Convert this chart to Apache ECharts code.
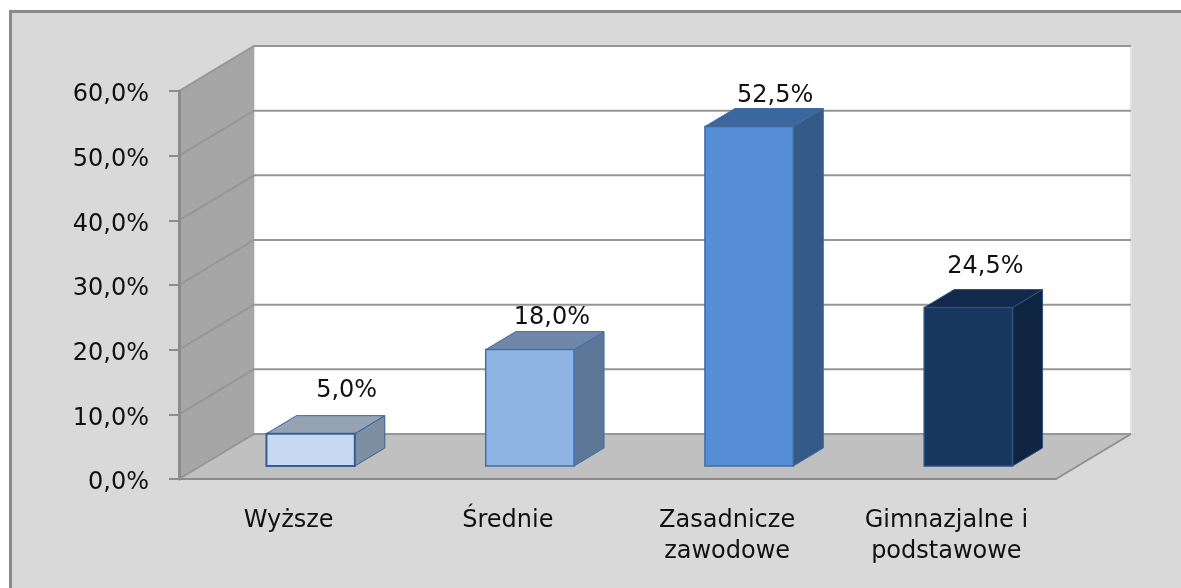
<!DOCTYPE html>
<html>
<head>
<meta charset="utf-8">
<style>
html,body{margin:0;padding:0;background:#fff;overflow:hidden;}
/* the source picture is a soft, scaled up bitmap */
#main{width:1181px;height:588px;filter:blur(0.4px);}
</style>
<script src="https://cdn.jsdelivr.net/npm/echarts@6/dist/echarts.min.js"></script>
</head>
<body>
<div id="main"></div>
<script>
// chart data
var categories = ['Wyższe', 'Średnie', 'Zasadnicze\nzawodowe', 'Gimnazjalne i\npodstawowe'];
var values = [5.0, 18.0, 52.5, 24.5];
var yTicks = [0, 10, 20, 30, 40, 50, 60];

// look of the bars: front, top, side, border
var frontColors = ['#c6d9f1', '#8eb4e3', '#558ed5', '#17375e'];
var topColors = ['#95a3b5', '#6f88aa', '#3c669e', '#11294b'];
var sideColors = ['#7f8fa3', '#5d7797', '#345a88', '#0f2440'];
var borderColors = ['#376092', '#416fa6', '#44699c', '#2f5180'];
var borderWidths = [2, 1.5, 1.5, 1.5];
// hand placed data labels, relative to the front top centre of each bar
var labelShift = [[36, -43], [22, -32], [26, -31], [17, -41]];

// fake 3d
var wallDX = 75, wallDY = 45;      // depth of the whole box
var barOffX = 22, barOffY = 13;    // how far behind the front edge the bars stand
var barDX = 30, barDY = 18;        // depth of a bar
var barRatio = 0.403;

var pct = function (v) {
    return v.toFixed(1).replace('.', ',') + '%';
};

function poly(points, fill, stroke, width) {
    return {
        type: 'polygon',
        shape: { points: points },
        style: { fill: fill, stroke: stroke || null, lineWidth: width || 0 }
    };
}

// back wall, left wall and floor
function renderWalls(params) {
    var c = params.coordSys;
    var l = c.x, r = c.x + c.width, t = c.y, b = c.y + c.height;
    return {
        type: 'group',
        children: [
            poly([[l + wallDX, t - wallDY], [r + wallDX, t - wallDY], [r + wallDX, b - wallDY], [l + wallDX, b - wallDY]], '#ffffff', '#e2e2e2', 2),
            poly([[l, t], [l + wallDX, t - wallDY], [l + wallDX, b - wallDY], [l, b]], '#a6a6a6'),
            poly([[l, b], [l + wallDX, b - wallDY], [r + wallDX, b - wallDY], [r, b]], '#c0c0c0'),
            {
                type: 'line',
                shape: { x1: r, y1: b, x2: r + wallDX, y2: b - wallDY },
                style: { stroke: '#8f8f8f', lineWidth: 2 }
            }
        ]
    };
}

// grid lines run along the left wall and then over the back wall
function renderGrid(params, api) {
    var c = params.coordSys;
    var y = api.coord([0, api.value(0)])[1];
    return {
        type: 'polyline',
        shape: { points: [[c.x, y], [c.x + wallDX, y - wallDY], [c.x + c.width + wallDX, y - wallDY]] },
        style: { fill: null, stroke: '#969696', lineWidth: 2 }
    };
}

function renderBar(params, api) {
    var i = params.dataIndex;
    var top = api.coord([i, api.value(1)]);
    var base = api.coord([i, 0]);
    var w = api.size([1, 0])[0] * barRatio;
    var x0 = top[0] + barOffX - w / 2, x1 = x0 + w;
    var yt = top[1] - barOffY, yb = base[1] - barOffY;
    var line = borderColors[i], lw = borderWidths[i];
    return {
        type: 'group',
        children: [
            poly([[x1, yt], [x1 + barDX, yt - barDY], [x1 + barDX, yb - barDY], [x1, yb]], sideColors[i], line, 1),
            poly([[x0, yt], [x0 + barDX, yt - barDY], [x1 + barDX, yt - barDY], [x1, yt]], topColors[i], line, 1),
            poly([[x0, yt], [x1, yt], [x1, yb], [x0, yb]], frontColors[i], line, lw),
            {
                type: 'text',
                x: x0 + w / 2 + labelShift[i][0],
                y: yt + labelShift[i][1],
                style: {
                    text: pct(api.value(1)),
                    fill: '#111111',
                    font: '24px "DejaVu Sans"',
                    align: 'center',
                    verticalAlign: 'middle'
                }
            }
        ]
    };
}

var myChart = echarts.init(document.getElementById('main'));

var option = {
    animation: false,
    backgroundColor: '#ffffff',
    textStyle: { fontFamily: 'DejaVu Sans' },
    // grey chart area, its right and bottom borders are cut off by the picture
    graphic: [{
        type: 'rect',
        z: -10,
        shape: { x: 10.5, y: 11.5, width: 1300, height: 700 },
        style: { fill: '#d9d9d9', stroke: '#8a8a8a', lineWidth: 3 }
    }],
    grid: { left: 179, top: 91, width: 877, height: 388 },
    xAxis: {
        type: 'category',
        data: categories,
        z: 5,
        axisLine: { lineStyle: { color: '#8c8c8c', width: 2 } },
        axisTick: { length: 9, lineStyle: { color: '#8c8c8c', width: 3 } },
        axisLabel: { margin: 26, color: '#111111', fontSize: 24, lineHeight: 31, interval: 0 }
    },
    yAxis: {
        type: 'value',
        min: 0,
        max: 60,
        interval: 10,
        z: 5,
        splitLine: { show: false },
        axisLine: { show: true, lineStyle: { color: '#8c8c8c', width: 3 } },
        axisTick: { show: true, length: 10, lineStyle: { color: '#8c8c8c', width: 2 } },
        axisLabel: {
            margin: 30,
            color: '#111111',
            fontSize: 24,
            // top aligned with a small line box pushes the text just below the tick
            verticalAlign: 'top',
            lineHeight: 8,
            formatter: pct
        }
    },
    series: [
        { type: 'custom', name: 'walls', z: 1, silent: true, data: [[0]], renderItem: renderWalls },
        {
            type: 'custom',
            name: 'grid',
            z: 2,
            silent: true,
            encode: { y: 0 },
            data: yTicks.map(function (v) { return [v]; }),
            renderItem: renderGrid
        },
        {
            type: 'custom',
            name: 'bars',
            z: 3,
            encode: { x: 0, y: 1 },
            data: values.map(function (v, i) { return [i, v]; }),
            renderItem: renderBar
        }
    ]
};

myChart.setOption(option);
</script>
</body>
</html>
